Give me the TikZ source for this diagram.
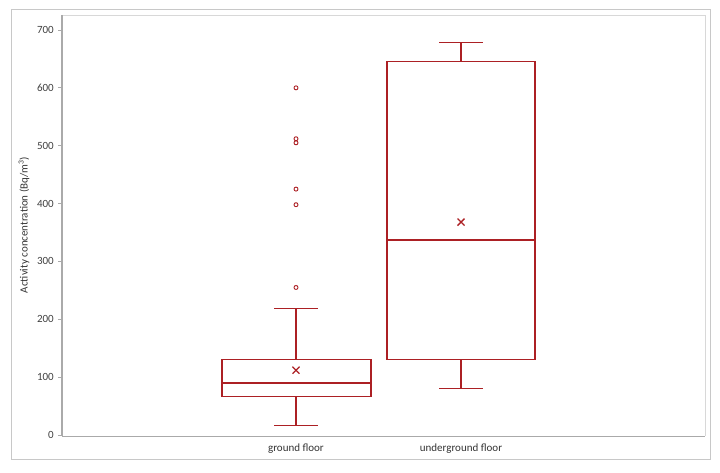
\documentclass[tikz,border=0pt]{standalone}
\usepackage{fontspec}
\setmainfont{Carlito}
\definecolor{boxred}{RGB}{172,32,36}
\definecolor{framegray}{RGB}{200,200,200}
\definecolor{axisgray}{RGB}{170,170,170}
\begin{document}
\begin{tikzpicture}[x=1pt,y=-1pt,
  declare function={vy(\v)=435-0.5786*\v;},
  box/.style={draw=boxred,line width=1.2pt},
  whisk/.style={draw=boxred,line width=1.2pt},
  outl/.style={draw=boxred,line width=0.9pt},
  meanmark/.style={draw=boxred,line width=1.3pt},
  ticklab/.style={anchor=east,font=\fontsize{11}{13}\selectfont,text=black!75,inner sep=0pt},
  catlab/.style={font=\fontsize{11}{13}\selectfont,text=black!80,inner sep=0pt},
  axlab/.style={rotate=90,font=\fontsize{11}{13}\selectfont,text=black!80,inner sep=0pt}]
\useasboundingbox (0,0) rectangle (720,473);
% outer frame
\draw[framegray,line width=0.9pt] (11,9) rectangle (710,459);
% plot area
\draw[framegray!70,line width=0.6pt] (62,15) -- (705,15) -- (705,436);
\draw[axisgray,line width=0.9pt] (62,436) -- (705,436);
\draw[axisgray,line width=1.8pt] (62,15) -- (62,436);
% ticks and labels
\foreach \v in {0,100,...,700}{
  \draw[axisgray,line width=0.8pt] (58,{vy(\v)}) -- (62,{vy(\v)});
  \node[ticklab] (t\v) at (54,{vy(\v)}) {\v};
}
\node[axlab] (ylab) at (24,225) {Activity concentration (Bq/m\textsuperscript{3})};
% ground floor
\draw[whisk] (296,{vy(130)}) -- (296,{vy(218)});
\draw[whisk] (274,{vy(218)}) -- (318,{vy(218)});
\draw[whisk] (296,{vy(67)}) -- (296,{vy(17)});
\draw[whisk] (274,{vy(17)}) -- (318,{vy(17)});
\draw[box] (222,{vy(130)}) rectangle (371,{vy(67)});
\draw[box] (222,{vy(90)}) -- (371,{vy(90)});
\draw[meanmark] (292.5,{vy(112)-3.5}) -- (299.5,{vy(112)+3.5});
\draw[meanmark] (292.5,{vy(112)+3.5}) -- (299.5,{vy(112)-3.5});
\foreach \o in {600,512,505,425,398,255}{
  \draw[outl] (296,{vy(\o)}) circle (2);
}
% underground floor
\draw[whisk] (461,{vy(645)}) -- (461,{vy(679)});
\draw[whisk] (439,{vy(679)}) -- (483,{vy(679)});
\draw[whisk] (461,{vy(130)}) -- (461,{vy(81)});
\draw[whisk] (439,{vy(81)}) -- (483,{vy(81)});
\draw[box] (387,{vy(645)}) rectangle (535,{vy(130)});
\draw[box] (387,{vy(337)}) -- (535,{vy(337)});
\draw[meanmark] (457.5,{vy(368)-3.5}) -- (464.5,{vy(368)+3.5});
\draw[meanmark] (457.5,{vy(368)+3.5}) -- (464.5,{vy(368)-3.5});
% category labels
\node[catlab] (gf) at (296,449) {ground floor};
\node[catlab] (uf) at (461,449) {underground floor};
\end{tikzpicture}
\end{document}
